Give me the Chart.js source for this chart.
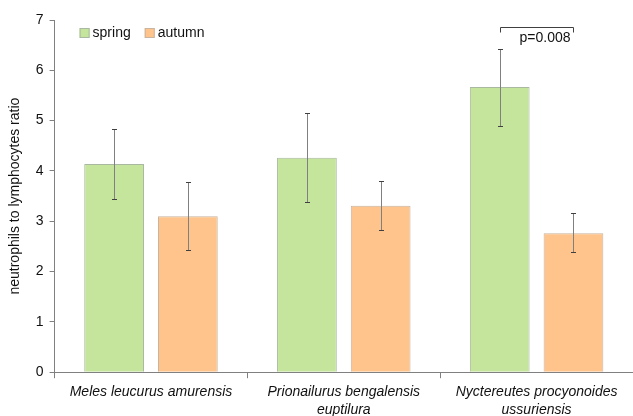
<!DOCTYPE html>
<html><head><meta charset="utf-8">
<script src="https://cdn.jsdelivr.net/npm/chart.js@4"></script>
<style>html,body{margin:0;padding:0;background:#fff;overflow:hidden;}#wrap{width:633px;height:416px;}</style>
</head><body><div id="wrap"><canvas id="c" width="633" height="416"></canvas></div>
<script>
const categories = [["Meles leucurus amurensis"], ["Prionailurus bengalensis", "euptilura"], ["Nyctereutes procyonoides", "ussuriensis"]];
const seriesNames = ["spring", "autumn"];
const springValues = [4.14, 4.26, 5.67];
const autumnValues = [3.10, 3.31, 2.76];
const springLow = [3.44, 3.38, 4.90];
const springHigh = [4.84, 5.15, 6.43];
const autumnLow = [2.42, 2.82, 2.38];
const autumnHigh = [3.79, 3.80, 3.17];
const yTicks = [0, 1, 2, 3, 4, 5, 6, 7];
const pLabel = "p=0.008";
const pCategory = 2;
const pLevel = 6.87;

const errLow = [springLow, autumnLow];
const errHigh = [springHigh, autumnHigh];
const FONT = '"Liberation Sans", Arial, sans-serif';

const extras = {
  id: 'extras',
  afterDatasetsDraw(chart) {
    const ctx = chart.ctx, y = chart.scales.y, area = chart.chartArea;
    chart.data.datasets.forEach((ds, di) => {
      const meta = chart.getDatasetMeta(di);
      meta.data.forEach((bar, i) => {
        const x = Math.round(bar.x) + 0.5;
        const yl = Math.round(y.getPixelForValue(errLow[di][i])) + 0.5;
        const yh = Math.round(y.getPixelForValue(errHigh[di][i])) + 0.5;
        ctx.save();
        ctx.strokeStyle = '#808080';
        ctx.lineWidth = 1;
        ctx.beginPath();
        ctx.moveTo(x, yl); ctx.lineTo(x, yh);
        ctx.stroke();
        ctx.strokeStyle = '#404040';
        ctx.beginPath();
        ctx.moveTo(x - 2.5, yl); ctx.lineTo(x + 2.5, yl);
        ctx.moveTo(x - 2.5, yh); ctx.lineTo(x + 2.5, yh);
        ctx.stroke();
        ctx.restore();
      });
    });
    // significance bracket
    const b0 = chart.getDatasetMeta(0).data[pCategory];
    const b1 = chart.getDatasetMeta(1).data[pCategory];
    const py = Math.round(y.getPixelForValue(pLevel)) + 0.5;
    const x0 = Math.round(b0.x) + 0.5, x1 = Math.round(b1.x) + 0.5;
    ctx.save();
    ctx.strokeStyle = '#404040';
    ctx.lineWidth = 1;
    ctx.beginPath();
    ctx.moveTo(x0, py + 5); ctx.lineTo(x0, py); ctx.lineTo(x1, py); ctx.lineTo(x1, py + 5);
    ctx.stroke();
    ctx.fillStyle = '#111';
    ctx.font = '14px ' + FONT;
    ctx.textAlign = 'right';
    ctx.textBaseline = 'middle';
    ctx.fillText(pLabel, x1 - 3, py + 11);
    ctx.restore();
    // legend (horizontal, inside plot area)
    ctx.save();
    ctx.font = '14px ' + FONT;
    ctx.textBaseline = 'middle';
    ctx.textAlign = 'left';
    let lx = area.left + 25;
    const ly = area.top + 13;
    chart.data.datasets.forEach(ds => {
      ctx.fillStyle = ds.backgroundColor;
      ctx.fillRect(lx, ly - 5, 10, 10);
      ctx.strokeStyle = ds.borderColor;
      ctx.lineWidth = 1;
      ctx.strokeRect(lx + 0.5, ly - 4.5, 9, 9);
      ctx.fillStyle = '#111';
      ctx.fillText(ds.label, lx + 13, ly);
      lx += 13 + ctx.measureText(ds.label).width + 14;
    });
    ctx.restore();
  }
};

new Chart(document.getElementById('c'), {
  type: 'bar',
  data: {
    labels: categories,
    datasets: [
      { label: seriesNames[0], data: springValues, backgroundColor: '#C4E59B', borderColor: '#A9B8A0', borderWidth: 1 },
      { label: seriesNames[1], data: autumnValues, backgroundColor: '#FEC48C', borderColor: '#C8B4A0', borderWidth: 1 }
    ]
  },
  options: {
    responsive: false,
    animation: false,
    devicePixelRatio: 1,
    layout: { padding: { top: 20, right: 0, left: 7, bottom: -8 } },
    datasets: { bar: { categoryPercentage: 0.765, barPercentage: 0.81 } },
    plugins: {
      legend: { display: false },
      tooltip: { enabled: false }
    },
    scales: {
      x: {
        offset: true,
        grid: { display: true, offset: true, drawOnChartArea: false, drawTicks: true, tickLength: 6, color: '#808080' },
        border: { display: true, color: '#808080' },
        ticks: {
          color: '#111',
          padding: 4,
          font: { size: 14, style: 'italic', family: FONT, lineHeight: 1.35 }
        }
      },
      y: {
        min: 0, max: 7,
        afterBuildTicks(axis) { axis.ticks = yTicks.map(v => ({ value: v })); },
        grid: { display: true, drawOnChartArea: false, drawTicks: true, tickLength: 5, color: '#808080' },
        border: { display: true, color: '#808080' },
        ticks: {
          color: '#111',
          padding: 6,
          font: { size: 14, family: FONT }
        },
        title: {
          display: true,
          text: 'neutrophils to lymphocytes ratio',
          color: '#111',
          padding: { top: 0, bottom: 6 },
          font: { size: 14, family: FONT }
        }
      }
    }
  },
  plugins: [extras]
});
</script>
</body></html>
